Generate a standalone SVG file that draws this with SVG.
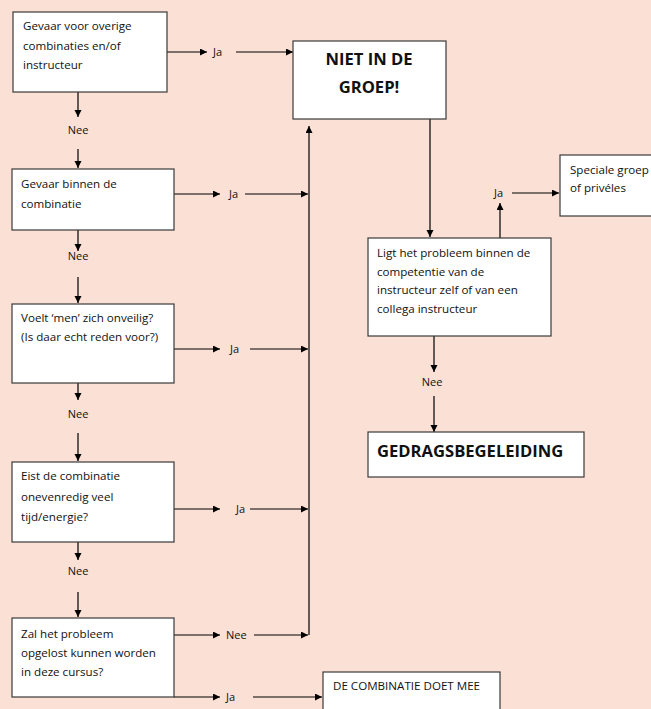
<svg xmlns="http://www.w3.org/2000/svg" width="651" height="709" viewBox="0 0 651 709">
<style>
.box{fill:#fff;stroke:#3a3a3a;stroke-width:1.2}
.t{font-family:"Open Sans","Liberation Sans",sans-serif;font-size:11.6px;fill:#111}
.l{font-family:"Open Sans","Liberation Sans",sans-serif;font-size:11px;fill:#111}
.b{font-family:"Open Sans","Liberation Sans",sans-serif;font-size:16.6px;font-weight:bold;fill:#111}
.c{fill:none;stroke:#000;stroke-width:1.2}
</style>
<defs>
<marker id="ah" markerUnits="userSpaceOnUse" markerWidth="8" markerHeight="8" refX="7" refY="3.5" orient="auto">
<path d="M0,0 L7,3.5 L0,7 z" fill="#000"/>
</marker>
</defs>
<rect width="651" height="709" fill="#FBE0D5"/>
<g id="connectors">
<path class="c" d="M167,52 H207" marker-end="url(#ah)"/>
<path class="c" d="M236,52 H293" marker-end="url(#ah)"/>
<path class="c" d="M78,92 V117" marker-end="url(#ah)"/>
<path class="c" d="M78,149 V168" marker-end="url(#ah)"/>
<path class="c" d="M174,194 H220" marker-end="url(#ah)"/>
<path class="c" d="M245,194 H308" marker-end="url(#ah)"/>
<path class="c" d="M78,230 V251" marker-end="url(#ah)"/>
<path class="c" d="M78,277 V303" marker-end="url(#ah)"/>
<path class="c" d="M174,349 H220" marker-end="url(#ah)"/>
<path class="c" d="M250,349 H308" marker-end="url(#ah)"/>
<path class="c" d="M78,383 V400" marker-end="url(#ah)"/>
<path class="c" d="M78,433 V461" marker-end="url(#ah)"/>
<path class="c" d="M174,509 H220" marker-end="url(#ah)"/>
<path class="c" d="M250,509 H308" marker-end="url(#ah)"/>
<path class="c" d="M78,542 V560" marker-end="url(#ah)"/>
<path class="c" d="M78,592 V617" marker-end="url(#ah)"/>
<path class="c" d="M174,635 H220" marker-end="url(#ah)"/>
<path class="c" d="M254,635 H308" marker-end="url(#ah)"/>
<path class="c" d="M309,635 V126" marker-end="url(#ah)"/>
<path class="c" d="M174,697 H220" marker-end="url(#ah)"/>
<path class="c" d="M253,697 H322" marker-end="url(#ah)"/>
<path class="c" d="M430,119 V237" marker-end="url(#ah)"/>
<path class="c" d="M500,238 V203" marker-end="url(#ah)"/>
<path class="c" d="M512,193 H559" marker-end="url(#ah)"/>
<path class="c" d="M434,336 V372" marker-end="url(#ah)"/>
<path class="c" d="M434,396 V432" marker-end="url(#ah)"/>
<text class="l" x="213" y="56">Ja</text>
<text class="l" x="78" y="134" text-anchor="middle">Nee</text>
<text class="l" x="229" y="198">Ja</text>
<text class="l" x="78" y="260" text-anchor="middle">Nee</text>
<text class="l" x="230" y="353">Ja</text>
<text class="l" x="78" y="418" text-anchor="middle">Nee</text>
<text class="l" x="236" y="513">Ja</text>
<text class="l" x="78" y="575" text-anchor="middle">Nee</text>
<text class="l" x="226" y="639">Nee</text>
<text class="l" x="226" y="701">Ja</text>
<text class="l" x="494" y="197">Ja</text>
<text class="l" x="432" y="386" text-anchor="middle">Nee</text>
</g>
<g id="q1">
<rect class="box" x="13" y="12" width="154" height="80"/>
<text class="t" x="23" y="30">Gevaar voor overige</text>
<text class="t" x="23" y="49.5">combinaties en/of</text>
<text class="t" x="23" y="68.5">instructeur</text>
</g>
<g id="niet">
<rect class="box" x="293" y="41" width="153" height="78"/>
<text class="b" x="369" y="65" text-anchor="middle">NIET IN DE</text>
<text class="b" x="369" y="93" text-anchor="middle">GROEP!</text>
</g>
<g id="q2">
<rect class="box" x="12" y="169" width="162" height="61"/>
<text class="t" x="21" y="187.5">Gevaar binnen de</text>
<text class="t" x="21" y="207.5">combinatie</text>
</g>
<g id="q3">
<rect class="box" x="12" y="304" width="162" height="79"/>
<text class="t" x="21" y="322">Voelt ‘men’ zich onveilig?</text>
<text class="t" x="21" y="341">(Is daar echt reden voor?)</text>
</g>
<g id="q4">
<rect class="box" x="12" y="462" width="162" height="80"/>
<text class="t" x="21" y="480">Eist de combinatie</text>
<text class="t" x="21" y="501">onevenredig veel</text>
<text class="t" x="21" y="520.5">tijd/energie?</text>
</g>
<g id="q5">
<rect class="box" x="12" y="618" width="162" height="79"/>
<text class="t" x="21" y="637.5">Zal het probleem</text>
<text class="t" x="21" y="657">opgelost kunnen worden</text>
<text class="t" x="21" y="676">in deze cursus?</text>
</g>
<g id="mee">
<rect class="box" x="323" y="672" width="177" height="50"/>
<text class="t" x="333" y="690">DE COMBINATIE DOET MEE</text>
</g>
<g id="speciale">
<rect class="box" x="560" y="155" width="100" height="61"/>
<text class="t" x="570" y="173.5">Speciale groep</text>
<text class="t" x="570" y="191.5">of privéles</text>
</g>
<g id="ligt">
<rect class="box" x="368" y="238" width="183" height="98"/>
<text class="t" x="377" y="256.5">Ligt het probleem binnen de</text>
<text class="t" x="377" y="275.5">competentie van de</text>
<text class="t" x="377" y="294">instructeur zelf of van een</text>
<text class="t" x="377" y="312.5">collega instructeur</text>
</g>
<g id="gedrag">
<rect class="box" x="368" y="432" width="216" height="45"/>
<text class="b" x="377" y="457">GEDRAGSBEGELEIDING</text>
</g>
</svg>
